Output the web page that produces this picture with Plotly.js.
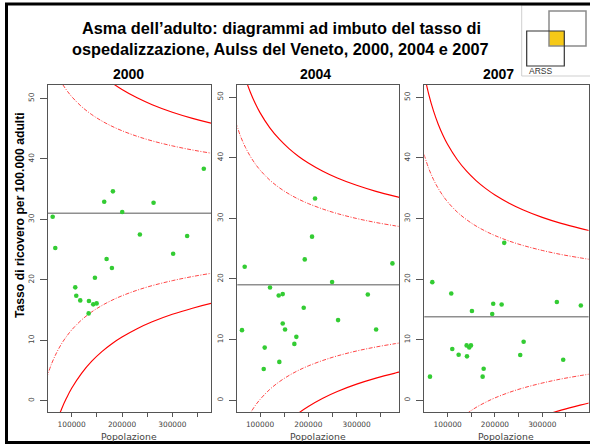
<!DOCTYPE html>
<html><head><meta charset="utf-8">
<script src="https://cdn.plot.ly/plotly-3.0.1.min.js"></script>
<style>html,body{margin:0;padding:0;background:#fff}#chart{width:590px;height:445px}</style>
</head><body><div id="chart"></div>
<script>
// ---------- data ----------
const years = ['2000', '2004', '2007'];
const means = [31.0, 19.05, 13.8];

// population values at which the funnel limits were read
const popSamples = [50000,60000,70000,80000,90000,100000,120000,140000,160000,180000,200000,230000,260000,300000,340000,380000,400000];

const up3_2000 = [71.9,68.35,65.59,63.34,61.51,59.93,57.41,55.45,53.87,52.56,51.46,50.08,48.94,47.70,46.69,45.84,45.47];
const up2_2000 = [58.28,55.9,54.06,52.56,51.34,50.29,48.61,47.3,46.25,45.38,44.64,43.72,42.96,42.14,41.46,40.89,40.64];
const lo2_2000 = [3.72,6.1,7.94,9.44,10.66,11.71,13.39,14.7,15.75,16.62,17.36,18.28,19.04,19.86,20.54,21.11,21.36];
const lo3_2000 = [-9.92,-6.35,-3.59,-1.34,0.49,2.07,4.59,6.55,8.13,9.44,10.54,11.92,13.06,14.3,15.31,16.16,16.53];

const up3_2004 = [59.19,55.68,52.98,50.79,48.97,47.43,44.96,43.04,41.49,40.2,39.12,37.76,36.65,35.44,34.44,33.61,33.24];
const up2_2004 = [45.81,43.47,41.67,40.21,38.99,37.97,36.32,35.04,34.01,33.15,32.43,31.53,30.78,29.97,29.31,28.76,28.51];
const lo2_2004 = [-7.71,-5.37,-3.57,-2.11,-0.89,0.13,1.78,3.06,4.09,4.95,5.67,6.57,7.32,8.13,8.79,9.34,9.59];
const lo3_2004 = [-21.09,-17.58,-14.88,-12.69,-10.87,-9.33,-6.86,-4.94,-3.39,-2.10,-1.02,0.34,1.45,2.66,3.66,4.49,4.86];

const up3_2007 = [53.97,50.49,47.76,45.57,43.75,42.21,39.74,37.81,36.26,34.98,33.89,32.54,31.42,30.2,29.21,28.38,28.01];
const up2_2007 = [40.58,38.26,36.44,34.98,33.77,32.74,31.09,29.81,28.77,27.92,27.19,26.29,25.55,24.74,24.07,23.52,23.27];
const lo2_2007 = [-12.98,-10.66,-8.84,-7.38,-6.17,-5.14,-3.49,-2.21,-1.17,-0.32,0.41,1.31,2.05,2.86,3.53,4.08,4.33];
const lo3_2007 = [-26.37,-22.89,-20.16,-17.97,-16.15,-14.61,-12.14,-10.21,-8.66,-7.38,-6.29,-4.94,-3.82,-2.6,-1.61,-0.78,-0.41];

const pop2000  = [62300,67460,362500,181950,164700,262700,200400,235500,329400,301600,169400,179960,146200,107140,109130,117060,134330,142860,149600,133730];
const rate2000 = [30.42,25.25,38.36,34.62,32.9,32.74,31.2,27.5,27.23,24.31,23.43,21.94,20.34,18.75,17.36,16.6,16.49,15.94,16.1,14.45];

const pop2004  = [213900,207700,192600,68300,374100,249200,120700,138700,147000,323100,190500,261600,147000,62700,151800,340300,175200,171100,109700,140000,107700];
const rate2004 = [33.26,26.98,23.23,22.02,22.57,19.49,18.6,17.28,17.51,17.45,15.25,13.22,12.65,11.56,11.67,11.67,10.46,9.3,8.69,6.33,5.17];

const pop2007  = [219600,67460,107600,196300,214100,330900,381600,151300,194200,260600,109700,140100,149200,145600,123200,140800,253400,344300,176100,173900,62600];
const rate2007 = [25.99,19.51,17.64,15.94,15.82,16.22,15.66,14.74,14.24,9.68,8.47,9.07,9.07,8.74,7.53,7.26,7.48,6.71,5.22,3.91,3.91];

const xTickVals = [100000,150000,200000,250000,300000,350000];
const xTickText = ['100000','','200000','','300000',''];
const yTickVals = [0,10,20,30,40,50];

const titleLine1 = 'Asma dell\u2019adulto: diagrammi ad imbuto del tasso di';
const titleLine2 = 'ospedalizzazione, Aulss del Veneto, 2000, 2004 e 2007';
const yTitle = 'Tasso di ricovero per 100.000 adulti';
const xTitle = 'Popolazione';
const logoText = 'ARSS';

// ---------- layout helpers (pixel -> paper) ----------
const W = 590, H = 445;
const px = v => v / W;
const py = v => 1 - v / H;

const panels = [
  {up3: up3_2000, up2: up2_2000, lo2: lo2_2000, lo3: lo3_2000, pop: pop2000, rate: rate2000,
   xd: [47.7, 211], xr: [52400, 376800], yr: [-1.85, 52.2], title: 128.8},
  {up3: up3_2004, up2: up2_2004, lo2: lo2_2004, lo3: lo3_2004, pop: pop2004, rate: rate2004,
   xd: [237.3, 399.3], xr: [53000, 388300], yr: [-1.93, 51.98], title: 315.2},
  {up3: up3_2007, up2: up2_2007, lo2: lo2_2007, lo3: lo3_2007, pop: pop2007, rate: rate2007,
   xd: [424.3, 588.6], xr: [50560, 398000], yr: [-1.92, 52.04], title: 498.3}
];

const traces = [];
const layout = {
  width: W, height: H,
  margin: {l: 0, r: 0, t: 0, b: 0},
  paper_bgcolor: '#fff', plot_bgcolor: '#fff',
  showlegend: false,
  font: {family: 'Liberation Sans, Arial, sans-serif', color: '#000'},
  annotations: [], shapes: []
};

const solid = {color: '#ff0000', width: 1.15, shape: 'spline'};
const dashed = {color: '#ff3030', width: 0.9, dash: '4px,1.5px,1px,1.5px', shape: 'spline'};
const tickFont = {family: 'DejaVu Sans, sans-serif', size: 7.4, color: '#444'};

panels.forEach((p, i) => {
  const sx = i === 0 ? '' : String(i + 1);
  const xa = 'x' + sx, ya = 'y' + sx;
  [[p.up3, solid], [p.up2, dashed], [p.lo2, dashed], [p.lo3, solid]].forEach(([ys, ln]) => {
    traces.push({x: popSamples, y: ys, type: 'scatter', mode: 'lines', line: ln,
                 xaxis: xa, yaxis: ya, hoverinfo: 'skip'});
  });
  traces.push({x: p.pop, y: p.rate, type: 'scatter', mode: 'markers',
               marker: {color: '#33cc33', size: 4.6, line: {width: 0}},
               xaxis: xa, yaxis: ya});

  layout['xaxis' + sx] = {
    domain: [px(p.xd[0]), px(p.xd[1])], anchor: ya, range: p.xr,
    showgrid: false, zeroline: false, showline: true, mirror: true,
    linecolor: '#555', linewidth: 1,
    ticks: 'outside', ticklen: 4, tickwidth: 1, tickcolor: '#555',
    tickvals: xTickVals, ticktext: xTickText, tickfont: tickFont, ticklabelstandoff: 1
  };
  layout['yaxis' + sx] = {
    domain: [py(412), py(85)], anchor: xa, range: p.yr,
    showgrid: false, zeroline: false, showline: true, mirror: true,
    linecolor: '#555', linewidth: 1,
    ticks: 'outside', ticklen: 7, tickwidth: 1, tickcolor: '#555',
    tickvals: yTickVals, tickangle: -90, tickfont: tickFont, ticklabelstandoff: 3
  };
  layout.shapes.push({type: 'line', xref: xa + ' domain', yref: ya, x0: 0, x1: 1,
                      y0: means[i], y1: means[i], layer: 'below',
                      line: {color: '#8f8f8f', width: 1.6}});
  layout.annotations.push({text: '<b>' + years[i] + '</b>', xref: 'paper', yref: 'paper',
    x: px(p.title), y: py(73.7), xanchor: 'center', yanchor: 'middle', showarrow: false,
    font: {size: 14, color: '#000'}});
  layout.annotations.push({text: xTitle, xref: 'paper', yref: 'paper',
    x: px((p.xd[0] + p.xd[1]) / 2), y: py(436.5), xanchor: 'center', yanchor: 'middle',
    showarrow: false, font: {family: 'DejaVu Sans, sans-serif', size: 9.3, color: '#444'}});
});

// titles
layout.annotations.push({text: '<b>' + titleLine1 + '</b>', xref: 'paper', yref: 'paper',
  x: px(281.3), y: py(27.5), xanchor: 'center', yanchor: 'middle', showarrow: false,
  font: {size: 16.3, color: '#000'}});
layout.annotations.push({text: '<b>' + titleLine2 + '</b>', xref: 'paper', yref: 'paper',
  x: px(280), y: py(49), xanchor: 'center', yanchor: 'middle', showarrow: false,
  font: {size: 16.3, color: '#000'}});
layout.annotations.push({text: '<b>' + yTitle + '</b>', xref: 'paper', yref: 'paper',
  x: px(20), y: py(215), xanchor: 'center', yanchor: 'middle', showarrow: false,
  textangle: -90, font: {size: 12.2, color: '#000'}});

// logo
layout.shapes.push({type: 'rect', xref: 'paper', yref: 'paper', x0: px(521.7), x1: px(600),
  y0: py(76), y1: py(5), line: {color: '#cfcfcf', width: 1}, fillcolor: 'rgba(0,0,0,0)'});
layout.shapes.push({type: 'rect', xref: 'paper', yref: 'paper', x0: px(549), x1: px(564.3),
  y0: py(46), y1: py(31), line: {width: 0}, fillcolor: '#f6c917'});
layout.shapes.push({type: 'rect', xref: 'paper', yref: 'paper', x0: px(549), x1: px(586),
  y0: py(46), y1: py(11), line: {color: '#8a8a8a', width: 1.5}, fillcolor: 'rgba(0,0,0,0)'});
layout.shapes.push({type: 'rect', xref: 'paper', yref: 'paper', x0: px(526.7), x1: px(564.3),
  y0: py(66), y1: py(31), line: {color: '#333', width: 1.2}, fillcolor: 'rgba(0,0,0,0)'});
layout.annotations.push({text: logoText, xref: 'paper', yref: 'paper',
  x: px(526.5), y: py(71.5), xanchor: 'left', yanchor: 'middle', showarrow: false,
  font: {family: 'Liberation Sans, Arial, sans-serif', size: 8.5, color: '#333'}});

// outer black frame
layout.shapes.push({type: 'rect', xref: 'paper', yref: 'paper', x0: px(6.5), x1: px(610),
  y0: py(442.5), y1: py(4), line: {color: '#000', width: 3}, fillcolor: 'rgba(0,0,0,0)'});

Plotly.newPlot('chart', traces, layout, {staticPlot: true, displayModeBar: false});
</script></body></html>
